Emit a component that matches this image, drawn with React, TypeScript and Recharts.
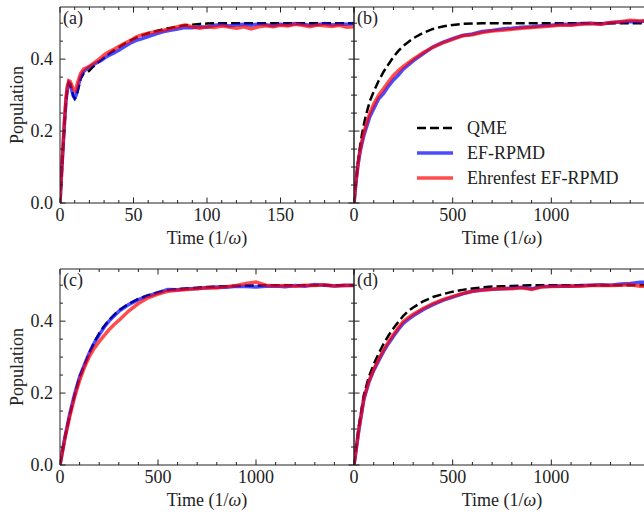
import React from 'react';
import { LineChart, Line, XAxis, YAxis, Legend } from 'recharts';

// values (time in 1/omega, population)
const timesA = [0, 1, 2, 3, 4, 5, 6, 7, 8, 9, 10, 11, 12, 14, 16, 18, 20, 22, 25, 28, 31, 34, 37, 40, 44, 48, 52, 56, 60,
  65, 70, 75, 80, 85, 90, 95, 100, 105, 110, 115, 120, 125, 130, 135, 140, 145, 150, 155, 160, 165, 170, 175, 180, 185, 190, 195, 200];
const qmeA = [0, 0.07, 0.145, 0.215, 0.275, 0.315, 0.333, 0.33, 0.315, 0.298, 0.29, 0.295, 0.31, 0.345, 0.36, 0.362, 0.368, 0.377,
  0.388, 0.398, 0.408, 0.417, 0.425, 0.433, 0.443, 0.452, 0.46, 0.466, 0.472, 0.478, 0.483, 0.487, 0.491, 0.494, 0.496, 0.498, 0.499,
  0.5, 0.5, 0.5, 0.5, 0.5, 0.5, 0.5, 0.5, 0.5, 0.5, 0.5, 0.5, 0.5, 0.5, 0.5, 0.5, 0.5, 0.5, 0.5, 0.5];
const efA = [0, 0.08, 0.15, 0.22, 0.28, 0.318, 0.335, 0.33, 0.313, 0.298, 0.292, 0.3, 0.318, 0.35, 0.365, 0.372, 0.378, 0.383,
  0.39, 0.396, 0.405, 0.412, 0.418, 0.425, 0.435, 0.445, 0.452, 0.457, 0.463, 0.47, 0.476, 0.48, 0.484, 0.488, 0.487, 0.49, 0.489,
  0.494, 0.496, 0.492, 0.495, 0.497, 0.494, 0.498, 0.496, 0.493, 0.497, 0.495, 0.499, 0.497, 0.494, 0.496, 0.499, 0.495, 0.498, 0.497, 0.499];
const ehA = [0, 0.08, 0.155, 0.228, 0.29, 0.325, 0.34, 0.338, 0.328, 0.318, 0.313, 0.318, 0.335, 0.36, 0.372, 0.376, 0.38, 0.386,
  0.395, 0.405, 0.415, 0.422, 0.428, 0.435, 0.444, 0.452, 0.462, 0.468, 0.472, 0.476, 0.48, 0.485, 0.49, 0.495, 0.49, 0.486, 0.49,
  0.488, 0.492, 0.489, 0.486, 0.49, 0.484, 0.49, 0.493, 0.49, 0.494, 0.492, 0.497, 0.494, 0.49, 0.495, 0.493, 0.491, 0.494, 0.489, 0.49];

const timesB = [0, 10, 20, 30, 40, 50, 60, 80, 100, 125, 150, 175, 200, 225, 250, 300, 350, 400, 450, 500, 550, 600, 650, 700,
  750, 800, 850, 900, 950, 1000, 1050, 1100, 1150, 1200, 1250, 1300, 1350, 1400, 1450, 1500];
const qmeB = [0, 0.06, 0.112, 0.155, 0.19, 0.218, 0.243, 0.283, 0.31, 0.34, 0.365, 0.386, 0.406, 0.423, 0.437, 0.458, 0.473, 0.484,
  0.491, 0.495, 0.498, 0.499, 0.5, 0.5, 0.5, 0.5, 0.5, 0.5, 0.5, 0.5, 0.5, 0.5, 0.5, 0.5, 0.5, 0.5, 0.5, 0.5, 0.5, 0.5];
const efB = [0, 0.058, 0.105, 0.14, 0.165, 0.188, 0.205, 0.24, 0.262, 0.29, 0.305, 0.325, 0.342, 0.356, 0.372, 0.395, 0.415, 0.434,
  0.447, 0.457, 0.466, 0.47, 0.477, 0.48, 0.484, 0.486, 0.489, 0.49, 0.493, 0.494, 0.497, 0.496, 0.499, 0.5, 0.498, 0.501, 0.503, 0.505, 0.504, 0.507];
const ehB = [0, 0.06, 0.108, 0.145, 0.172, 0.196, 0.215, 0.25, 0.275, 0.3, 0.318, 0.337, 0.355, 0.368, 0.38, 0.4, 0.418, 0.433,
  0.445, 0.455, 0.465, 0.468, 0.474, 0.478, 0.48, 0.483, 0.486, 0.488, 0.49, 0.492, 0.495, 0.494, 0.497, 0.499, 0.497, 0.502, 0.504, 0.508, 0.506, 0.508];

const timesCD = [0, 25, 50, 75, 100, 125, 150, 175, 200, 225, 250, 275, 300, 350, 400, 450, 500, 550, 600, 650, 700, 750, 800,
  850, 900, 950, 1000, 1050, 1100, 1150, 1200, 1250, 1300, 1350, 1400, 1450, 1500];
const qmeC = [0, 0.075, 0.14, 0.195, 0.245, 0.278, 0.312, 0.342, 0.366, 0.386, 0.403, 0.417, 0.43, 0.448, 0.462, 0.472, 0.48, 0.486,
  0.489, 0.491, 0.493, 0.495, 0.496, 0.497, 0.498, 0.499, 0.499, 0.5, 0.5, 0.5, 0.5, 0.5, 0.5, 0.5, 0.5, 0.5, 0.5];
const efC = [0, 0.077, 0.143, 0.198, 0.245, 0.28, 0.312, 0.34, 0.362, 0.383, 0.4, 0.414, 0.427, 0.446, 0.46, 0.47, 0.479, 0.488,
  0.487, 0.49, 0.491, 0.493, 0.495, 0.494, 0.497, 0.496, 0.495, 0.497, 0.498, 0.496, 0.499, 0.497, 0.502, 0.5, 0.498, 0.499, 0.5];
const ehC = [0, 0.073, 0.135, 0.19, 0.235, 0.272, 0.302, 0.325, 0.343, 0.36, 0.376, 0.39, 0.402, 0.428, 0.449, 0.465, 0.475, 0.483,
  0.486, 0.488, 0.49, 0.493, 0.492, 0.496, 0.499, 0.505, 0.509, 0.5, 0.498, 0.499, 0.497, 0.5, 0.499, 0.501, 0.498, 0.5, 0.499];

const qmeD = [0, 0.11, 0.195, 0.245, 0.28, 0.31, 0.337, 0.36, 0.38, 0.398, 0.415, 0.428, 0.438, 0.455, 0.467, 0.475, 0.482, 0.487,
  0.491, 0.494, 0.496, 0.497, 0.498, 0.499, 0.5, 0.5, 0.5, 0.5, 0.5, 0.5, 0.5, 0.5, 0.5, 0.5, 0.5, 0.5, 0.5];
const efD = [0, 0.1, 0.183, 0.23, 0.263, 0.29, 0.316, 0.338, 0.358, 0.377, 0.394, 0.405, 0.415, 0.432, 0.446, 0.458, 0.467, 0.476,
  0.483, 0.487, 0.489, 0.49, 0.492, 0.494, 0.49, 0.496, 0.497, 0.498, 0.497, 0.499, 0.5, 0.501, 0.5, 0.503, 0.505, 0.508, 0.509];
const ehD = [0, 0.1, 0.185, 0.232, 0.266, 0.294, 0.32, 0.343, 0.363, 0.382, 0.399, 0.41, 0.419, 0.435, 0.449, 0.46, 0.469, 0.477,
  0.483, 0.486, 0.489, 0.491, 0.49, 0.493, 0.488, 0.495, 0.496, 0.497, 0.498, 0.497, 0.499, 0.5, 0.499, 0.5, 0.501, 0.497, 0.497];

// ticks
const yTicks = [0, 0.05, 0.1, 0.15, 0.2, 0.25, 0.3, 0.35, 0.4, 0.45, 0.5];
const yMajor = [0, 0.2, 0.4];
const xTicksShort = [0, 10, 20, 30, 40, 50, 60, 70, 80, 90, 100, 110, 120, 130, 140, 150, 160, 170, 180, 190, 200];
const xMajorShort = [0, 50, 100, 150, 200];
const xLabelsShort = [0, 50, 100, 150];
const xTicksLong = [0, 100, 200, 300, 400, 500, 600, 700, 800, 900, 1000, 1100, 1200, 1300, 1400, 1500];
const xMajorLong = [0, 500, 1000, 1500];
const xLabelsLong = [0, 500, 1000];

const legendItems = [
  { name: 'QME', color: '#000000', dash: '9 4' },
  { name: 'EF-RPMD', color: '#4d4dff', dash: '' },
  { name: 'Ehrenfest EF-RPMD', color: '#ff4d4d', dash: '' },
];

const FONT = "'Liberation Serif', 'DejaVu Serif', serif";
const FS = 18;
const INK = '#222222';
const Y_MAX = 0.545;

const rows = (t: number[], q: number[], e: number[], h: number[]) =>
  t.map((x, i) => ({ t: x, qme: q[i], ef: e[i], eh: h[i] }));

const has = (arr: number[], v: number) => arr.some(a => Math.abs(a - v) < 1e-9);

type Side = 'bottom' | 'top' | 'left' | 'right';

// inward ticks, matplotlib style
const makeTick = (side: Side, majors: number[], labeled: number[], fmt: (v: number) => string) => (props: any) => {
  const { x, y, payload } = props;
  const v = payload.value;
  const len = has(majors, v) ? 5.5 : 3;
  let x2 = x;
  let y2 = y;
  if (side === 'bottom') y2 = y - len;
  if (side === 'top') y2 = y + len;
  if (side === 'left') x2 = x + len;
  if (side === 'right') x2 = x - len;
  let label = null;
  if (has(labeled, v)) {
    if (side === 'bottom') {
      label = <text x={x} y={y + 18} textAnchor="middle" fontFamily={FONT} fontSize={FS} fill={INK}>{fmt(v)}</text>;
    } else if (side === 'left') {
      label = <text x={x - 7} y={y + 6} textAnchor="end" fontFamily={FONT} fontSize={FS} fill={INK}>{fmt(v)}</text>;
    }
  }
  return (
    <g>
      <line x1={x} y1={y} x2={x2} y2={y2} stroke={INK} strokeWidth={1} />
      {label}
    </g>
  );
};

const fmtX = (v: number) => String(v);
const fmtY = (v: number) => v.toFixed(1);

const xTitle = (props: any) => {
  const vb = props.viewBox || {};
  return (
    <text x={(vb.x || 0) + (vb.width || 0) / 2} y={(vb.y || 0) + 41} textAnchor="middle" fontFamily={FONT} fontSize={FS} fill={INK}>
      Time (1/<tspan fontStyle="italic">ω</tspan>)
    </text>
  );
};

const yTitle = (props: any) => {
  const vb = props.viewBox || {};
  const cy = (vb.y || 0) + (vb.height || 0) / 2;
  return (
    <text x={17} y={cy} transform={`rotate(-90, 17, ${cy})`} textAnchor="middle" dominantBaseline="central"
      fontFamily={FONT} fontSize={FS} fill={INK}>
      Population
    </text>
  );
};

// the top axis is 1px tall, its box ends at the plot's top edge
const letterLabel = (letter: string) => (props: any) => {
  const vb = props.viewBox || {};
  return (
    <text x={(vb.x || 0) + 3} y={(vb.y || 0) + (vb.height || 0) + 17} fontFamily={FONT} fontSize={FS} fill={INK}>({letter})</text>
  );
};

const LegendBox = () => (
  <div style={{ fontFamily: FONT, fontSize: FS, color: INK }}>
    {legendItems.map(it => (
      <div key={it.name} style={{ display: 'flex', alignItems: 'center', height: 25 }}>
        <svg width={36} height={10} style={{ marginRight: 14 }}>
          <line x1={0} y1={5} x2={36} y2={5} stroke={it.color} strokeWidth={it.dash ? 2.5 : 3.5}
            strokeDasharray={it.dash || undefined} />
        </svg>
        <span style={{ lineHeight: '25px', whiteSpace: 'nowrap' }}>{it.name}</span>
      </div>
    ))}
  </div>
);

interface PanelProps {
  left: number;
  top: number;
  data: { t: number; qme: number; ef: number; eh: number }[];
  xMax: number;
  xTicks: number[];
  xMajor: number[];
  xLabels: number[];
  yLabels: boolean;
  letter: string;
  legend?: boolean;
}

const Panel: React.FC<PanelProps> = ({ left, top, data, xMax, xTicks, xMajor, xLabels, yLabels, letter, legend }) => {
  // left column: 60px label gutter; right column: 23px spare margin so the "0" label is not clipped
  const yW = yLabels ? 60 : 1;
  const mLeft = yLabels ? 0 : 23;
  const width = yLabels ? 360 : 330;
  const mRight = yLabels ? 5 : 9;
  return (
    <div style={{ position: 'absolute', left, top }}>
      <LineChart width={width} height={255} data={data} margin={{ top: 6, right: mRight, left: mLeft, bottom: 0 }}>
        <XAxis dataKey="t" type="number" domain={[0, xMax]} ticks={xTicks} interval={0} allowDataOverflow
          height={52} tickLine={false} tickSize={0} tickMargin={0} axisLine={{ stroke: INK }}
          tick={makeTick('bottom', xMajor, xLabels, fmtX)} label={xTitle} />
        <XAxis xAxisId="top" orientation="top" dataKey="t" type="number" domain={[0, xMax]} ticks={xTicks} interval={0}
          allowDataOverflow height={1} tickLine={false} tickSize={0} tickMargin={0} axisLine={{ stroke: INK }}
          tick={makeTick('top', xMajor, [], fmtX)} label={letterLabel(letter)} />
        <YAxis type="number" domain={[0, Y_MAX]} ticks={yTicks} interval={0} allowDataOverflow width={yW}
          tickLine={false} tickSize={0} tickMargin={0} axisLine={{ stroke: INK }}
          tick={makeTick('left', yMajor, yLabels ? yMajor : [], fmtY)} label={yLabels ? yTitle : undefined} />
        <YAxis yAxisId="right" orientation="right" type="number" domain={[0, Y_MAX]} ticks={yTicks} interval={0}
          allowDataOverflow width={1} tickLine={false} tickSize={0} tickMargin={0} axisLine={{ stroke: INK }}
          tick={makeTick('right', yMajor, [], fmtY)} />
        <Line type="linear" dataKey="qme" name="QME" stroke="#000000" strokeWidth={2.5} strokeDasharray="9 4"
          dot={false} isAnimationActive={false} />
        <Line type="linear" dataKey="ef" name="EF-RPMD" stroke="#0000ff" strokeOpacity={0.7} strokeWidth={3.5}
          dot={false} isAnimationActive={false} />
        <Line type="linear" dataKey="eh" name="Ehrenfest EF-RPMD" stroke="#ff0000" strokeOpacity={0.7} strokeWidth={3.5}
          dot={false} isAnimationActive={false} />
        {legend && (
          <Legend layout="vertical" align="center" verticalAlign="middle" content={() => <LegendBox />}
            wrapperStyle={{ left: 87, top: 115.5, width: 'auto', height: 'auto' }} />
        )}
      </LineChart>
    </div>
  );
};

export default function App() {
  return (
    <div style={{ position: 'fixed', left: 0, top: 0, width: 644, height: 514, overflow: 'hidden', background: '#fff' }}>
      <Panel left={0} top={0} data={rows(timesA, qmeA, efA, ehA)} xMax={200} xTicks={xTicksShort} xMajor={xMajorShort}
        xLabels={xLabelsShort} yLabels letter="a" />
      <Panel left={330} top={0} data={rows(timesB, qmeB, efB, ehB)} xMax={1500} xTicks={xTicksLong} xMajor={xMajorLong}
        xLabels={xLabelsLong} yLabels={false} letter="b" legend />
      <Panel left={0} top={262} data={rows(timesCD, qmeC, efC, ehC)} xMax={1500} xTicks={xTicksLong} xMajor={xMajorLong}
        xLabels={xLabelsLong} yLabels letter="c" />
      <Panel left={330} top={262} data={rows(timesCD, qmeD, efD, ehD)} xMax={1500} xTicks={xTicksLong} xMajor={xMajorLong}
        xLabels={xLabelsLong} yLabels={false} letter="d" />
    </div>
  );
}
